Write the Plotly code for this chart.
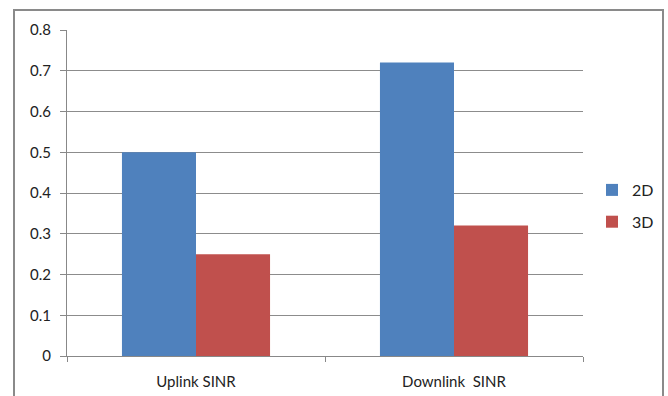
import plotly.graph_objects as go

categories = ["Uplink SINR", "Downlink  SINR"]
series_names = ["2D", "3D"]
values_2d = [0.5, 0.72]
values_3d = [0.25, 0.32]
y_ticks = [0, 0.1, 0.2, 0.3, 0.4, 0.5, 0.6, 0.7, 0.8]
y_labels = ["0", "0.1", "0.2", "0.3", "0.4", "0.5", "0.6", "0.7", "0.8"]

colors = ["#4F81BD", "#C0504D"]
font_family = "Lato, 'Open Sans', 'DejaVu Sans', sans-serif"

fig = go.Figure()
for name, vals, col in zip(series_names, [values_2d, values_3d], colors):
    fig.add_trace(go.Bar(
        x=categories, y=vals, name=name, legendgroup=name,
        marker=dict(color=col, line=dict(width=0)),
    ))

W, H = 668, 396
ml, mr, mt, mb = 67, 85, 30, 40
pw, ph = W - ml - mr, H - mt - mb

fig.update_layout(
    width=W, height=H,
    margin=dict(l=ml, r=mr, t=mt, b=mb, autoexpand=False),
    paper_bgcolor="white", plot_bgcolor="white",
    barmode="group", bargap=0.426, bargroupgap=0,
    font=dict(family=font_family, size=15, color="#222"),
    showlegend=True,
    legend=dict(
        x=(592 - ml) / pw, y=(356 - 206) / ph, xanchor="left", yanchor="middle",
        font=dict(size=16, color="#222"), itemwidth=30,
        tracegroupgap=8, bgcolor="rgba(0,0,0,0)",
    ),
    xaxis=dict(
        showgrid=False, showline=True, linecolor="#888", linewidth=1,
        ticks="outside", tickson="boundaries", ticklen=5, tickcolor="#888",
        tickfont=dict(size=15, color="#222"), ticklabelstandoff=12,
    ),
    yaxis=dict(
        range=[0, 0.8], tickvals=y_ticks, ticktext=y_labels,
        showgrid=True, gridcolor="#8c8c8c", gridwidth=1,
        showline=True, linecolor="#888", linewidth=1,
        ticks="outside", ticklen=6, tickcolor="#888",
        tickfont=dict(size=15, color="#222"), zeroline=False,
        ticklabelstandoff=6,
    ),
    shapes=[dict(
        type="rect", xref="paper", yref="paper",
        x0=(14 - ml) / pw, x1=(663 - ml) / pw,
        y0=-(H - mt) / ph, y1=1 + (mt - 10) / ph,
        line=dict(color="#8a8a8a", width=2), layer="below",
    )],
)

fig.write_html("out.html")
